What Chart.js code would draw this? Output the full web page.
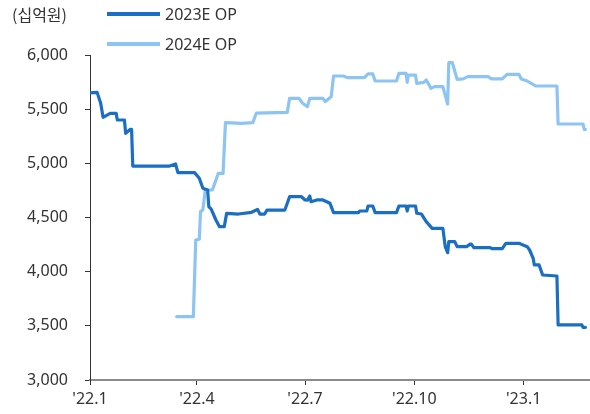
<!DOCTYPE html>
<html>
<head>
<meta charset="utf-8">
<script src="https://cdn.jsdelivr.net/npm/chart.js@4.4.1/dist/chart.umd.min.js"></script>
<style>
html,body{margin:0;padding:0;background:#fff;}
canvas{display:block;}
</style>
</head>
<body>
<canvas id="c" width="590" height="414"></canvas>
<script>
const unitLabel = '(십억원)';
const seriesNames = ['2023E OP', '2024E OP'];
const tickDates = ['2022-01-01', '2022-04-01', '2022-07-01', '2022-10-01', '2023-01-01'];
const tickLabels = ["'22.1", "'22.4", "'22.7", "'22.10", "'23.1"];
const axisStart = '2022-01-01';
const axisEnd = '2023-02-25';
const yTicks = [3000, 3500, 4000, 4500, 5000, 5500, 6000];

const dates2023 = ['2022-01-01','2022-01-07','2022-01-10','2022-01-12','2022-01-18','2022-01-23','2022-01-24','2022-01-30','2022-01-31','2022-02-04','2022-02-05','2022-02-06','2022-03-09','2022-03-14','2022-03-16','2022-03-30','2022-04-03','2022-04-06','2022-04-10','2022-04-11','2022-04-13','2022-04-17','2022-04-20','2022-04-24','2022-04-26','2022-05-06','2022-05-17','2022-05-22','2022-05-24','2022-05-28','2022-05-30','2022-06-14','2022-06-18','2022-06-28','2022-07-01','2022-07-03','2022-07-05','2022-07-06','2022-07-11','2022-07-16','2022-07-22','2022-07-25','2022-08-15','2022-08-16','2022-08-22','2022-08-23','2022-08-27','2022-08-29','2022-09-16','2022-09-18','2022-09-24','2022-09-25','2022-09-26','2022-10-02','2022-10-03','2022-10-07','2022-10-11','2022-10-16','2022-10-25','2022-10-27','2022-10-29','2022-10-30','2022-11-04','2022-11-06','2022-11-14','2022-11-17','2022-11-18','2022-11-20','2022-12-04','2022-12-05','2022-12-14','2022-12-17','2022-12-28','2023-01-04','2023-01-06','2023-01-09','2023-01-10','2023-01-14','2023-01-17','2023-01-29','2023-01-30','2023-02-19','2023-02-20','2023-02-22'];
const values2023 = [5650,5655,5554,5425,5462,5462,5400,5400,5277,5314,5314,4975,4975,4994,4914,4914,4862,4770,4754,4600,4578,4477,4415,4415,4538,4532,4548,4575,4532,4532,4569,4569,4692,4692,4662,4660,4698,4646,4662,4662,4631,4545,4545,4560,4560,4606,4606,4545,4545,4606,4606,4560,4606,4606,4539,4532,4462,4400,4400,4231,4175,4277,4277,4231,4231,4254,4254,4222,4222,4213,4213,4262,4262,4231,4200,4123,4062,4062,3969,3960,3508,3508,3486,3486];

const dates2024 = ['2022-03-15','2022-03-29','2022-03-31','2022-04-03','2022-04-04','2022-04-06','2022-04-08','2022-04-14','2022-04-17','2022-04-19','2022-04-23','2022-04-25','2022-05-09','2022-05-18','2022-05-21','2022-06-16','2022-06-18','2022-06-26','2022-06-29','2022-07-03','2022-07-05','2022-07-16','2022-07-18','2022-07-23','2022-07-25','2022-08-02','2022-08-06','2022-08-20','2022-08-23','2022-08-27','2022-08-29','2022-09-16','2022-09-18','2022-09-24','2022-09-25','2022-09-26','2022-10-02','2022-10-03','2022-10-09','2022-10-11','2022-10-15','2022-10-18','2022-10-25','2022-10-29','2022-10-30','2022-11-02','2022-11-06','2022-11-11','2022-11-15','2022-12-02','2022-12-05','2022-12-14','2022-12-18','2022-12-28','2022-12-30','2023-01-04','2023-01-11','2023-01-29','2023-01-30','2023-02-20','2023-02-21','2023-02-22'];
const values2024 = [3585,3585,4292,4300,4554,4570,4754,4754,4846,4908,4908,5375,5369,5375,5464,5470,5600,5600,5554,5523,5600,5600,5570,5615,5806,5806,5791,5791,5825,5825,5760,5760,5831,5831,5748,5815,5815,5738,5748,5769,5692,5708,5708,5548,5929,5929,5775,5780,5800,5800,5779,5779,5822,5822,5778,5760,5714,5714,5363,5363,5314,5314];

const colors = ['#1B6FC3', '#8EC4F1'];

function dayOf(s) {
  const p = s.split('-').map(Number);
  const a = axisStart.split('-').map(Number);
  return (Date.UTC(p[0], p[1]-1, p[2]) - Date.UTC(a[0], a[1]-1, a[2])) / 86400000;
}
function pts(dates, vals) { return dates.map((d, i) => ({x: dayOf(d), y: vals[i]})); }

const tickDays = tickDates.map(dayOf);
const FONT = '"Noto Sans", "Noto Sans CJK KR", sans-serif';

const legendPlugin = {
  id: 'customLegend',
  afterDraw(chart) {
    const ctx = chart.ctx;
    ctx.save();
    ctx.font = '16px "Noto Sans CJK KR", "Noto Sans", sans-serif';
    ctx.fillStyle = '#333';
    ctx.textBaseline = 'middle';
    ctx.textAlign = 'left';
    ctx.fillText(unitLabel, 12, 15);
    const rows = [14, 44];
    chart.data.datasets.forEach((ds, i) => {
      ctx.strokeStyle = ds.borderColor;
      ctx.lineWidth = 4;
      ctx.beginPath();
      ctx.moveTo(107, rows[i]);
      ctx.lineTo(160, rows[i]);
      ctx.stroke();
      ctx.font = '16px ' + FONT;
      ctx.fillStyle = '#333';
      ctx.fillText(ds.label, 165, rows[i] + 1);
    });
    ctx.restore();
  }
};

new Chart(document.getElementById('c'), {
  type: 'line',
  data: {
    datasets: [
      {label: seriesNames[0], data: pts(dates2023, values2023), borderColor: colors[0], borderWidth: 3.2, borderJoinStyle: 'round', borderCapStyle: 'round', pointRadius: 0, tension: 0, fill: false},
      {label: seriesNames[1], data: pts(dates2024, values2024), borderColor: colors[1], borderWidth: 3.2, borderJoinStyle: 'round', borderCapStyle: 'round', pointRadius: 0, tension: 0, fill: false}
    ]
  },
  options: {
    responsive: false,
    animation: false,
    layout: {padding: {top: 55, right: 1, left: 0, bottom: 0}},
    plugins: {legend: {display: false}, tooltip: {enabled: false}, title: {display: false}},
    scales: {
      x: {
        type: 'linear',
        min: 0,
        max: dayOf(axisEnd),
        afterBuildTicks(scale) { scale.ticks = tickDays.map(v => ({value: v})); },
        afterFit(scale) { scale.height = 34; },
        ticks: {
          autoSkip: false, maxRotation: 0, padding: 5,
          color: '#333', font: {family: FONT, size: 16},
          callback(v) { const i = tickDays.indexOf(v); return i >= 0 ? tickLabels[i] : ''; }
        },
        grid: {drawOnChartArea: false, drawTicks: true, tickLength: 5, color: '#333'},
        border: {display: true, color: '#8a8a8a', width: 2}
      },
      y: {
        min: 3000, max: 6000,
        afterBuildTicks(scale) { scale.ticks = yTicks.map(v => ({value: v})); },
        afterFit(scale) { scale.width = 90; },
        ticks: {
          padding: 17, color: '#333', font: {family: FONT, size: 16},
          callback(v) { return v.toLocaleString('en-US'); }
        },
        grid: {drawOnChartArea: false, drawTicks: true, tickLength: 5, color: '#333'},
        border: {display: true, color: '#333', width: 1}
      }
    }
  },
  plugins: [legendPlugin]
});
</script>
</body>
</html>
